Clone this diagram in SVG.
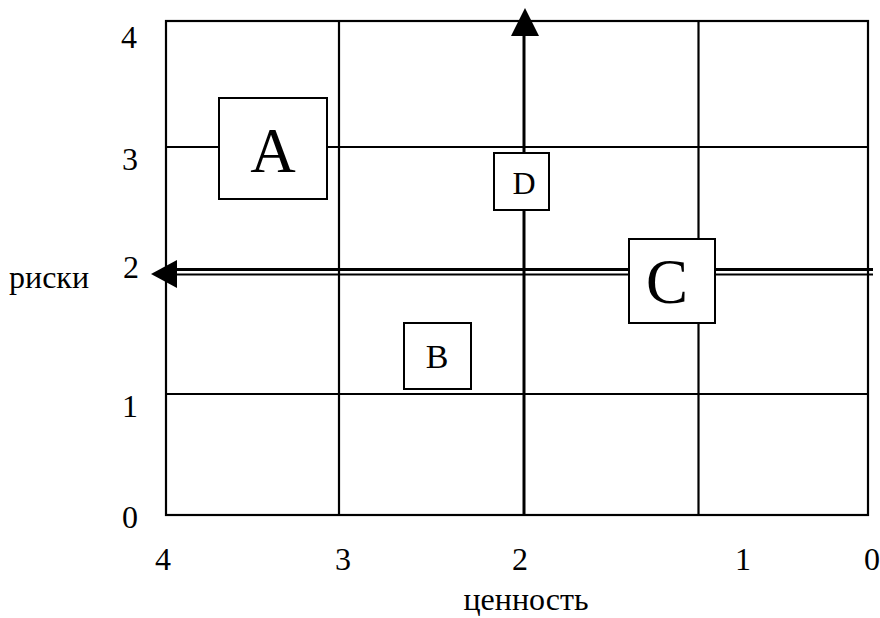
<svg xmlns="http://www.w3.org/2000/svg" width="880" height="618" viewBox="0 0 880 618">
  <style>
    .grid { stroke: #000; stroke-width: 2.2; fill: none; }
    .axis { stroke: #000; stroke-width: 3; fill: none; }
    .thin { stroke: #000; stroke-width: 2; fill: none; }
    .box { fill: #fff; stroke: #000; stroke-width: 2; }
    text { font-family: "Liberation Serif", "Times New Roman", serif; fill: #000; }
    .lbl { font-size: 32px; }
    .big { font-size: 63px; }
    .mid { text-anchor: middle; }
  </style>

  <!-- grid -->
  <g id="grid">
    <rect class="grid" x="166" y="21" width="702" height="494"/>
    <line class="grid" x1="339" y1="21" x2="339" y2="515"/>
    <line class="grid" x1="698.5" y1="21" x2="698.5" y2="515"/>
    <line class="grid" x1="166" y1="147" x2="868" y2="147"/>
    <line class="grid" x1="166" y1="394" x2="868" y2="394"/>
  </g>

  <!-- axes -->
  <g id="connectors">
    <line class="axis" x1="524" y1="515" x2="524" y2="34"/>
    <polygon points="525,8 539,36 511,36" fill="#000"/>
    <line class="axis" x1="174" y1="269.5" x2="873" y2="269.5"/>
    <line class="thin" x1="174" y1="274.5" x2="873" y2="274.5"/>
    <polygon points="151,274 177,260 177,288" fill="#000"/>
  </g>

  <!-- axis labels -->
  <g id="labels">
    <text class="lbl mid" x="129" y="48">4</text>
    <text class="lbl mid" x="130" y="170">3</text>
    <text class="lbl mid" x="131" y="278">2</text>
    <text class="lbl mid" x="130" y="417">1</text>
    <text class="lbl mid" x="130" y="528">0</text>
    <text class="lbl mid" x="163" y="570">4</text>
    <text class="lbl mid" x="343" y="570">3</text>
    <text class="lbl mid" x="520" y="570">2</text>
    <text class="lbl mid" x="743" y="570">1</text>
    <text class="lbl mid" x="872" y="570">0</text>
    <text class="lbl" x="9" y="288">риски</text>
    <text class="lbl mid" x="526" y="610">ценность</text>
  </g>

  <!-- items -->
  <g id="A">
    <rect class="box" x="219" y="98" width="108" height="101"/>
    <text class="big mid" x="273" y="172">A</text>
  </g>
  <g id="B">
    <rect class="box" x="404" y="323" width="67" height="66"/>
    <text class="mid" style="font-size:34px" x="437" y="368">B</text>
  </g>
  <g id="C">
    <rect class="box" x="629" y="239" width="86" height="84"/>
    <text class="big mid" x="667" y="303">C</text>
  </g>
  <g id="D">
    <rect class="box" x="494" y="153" width="55" height="57"/>
    <text class="lbl mid" x="524" y="194">D</text>
  </g>
</svg>
